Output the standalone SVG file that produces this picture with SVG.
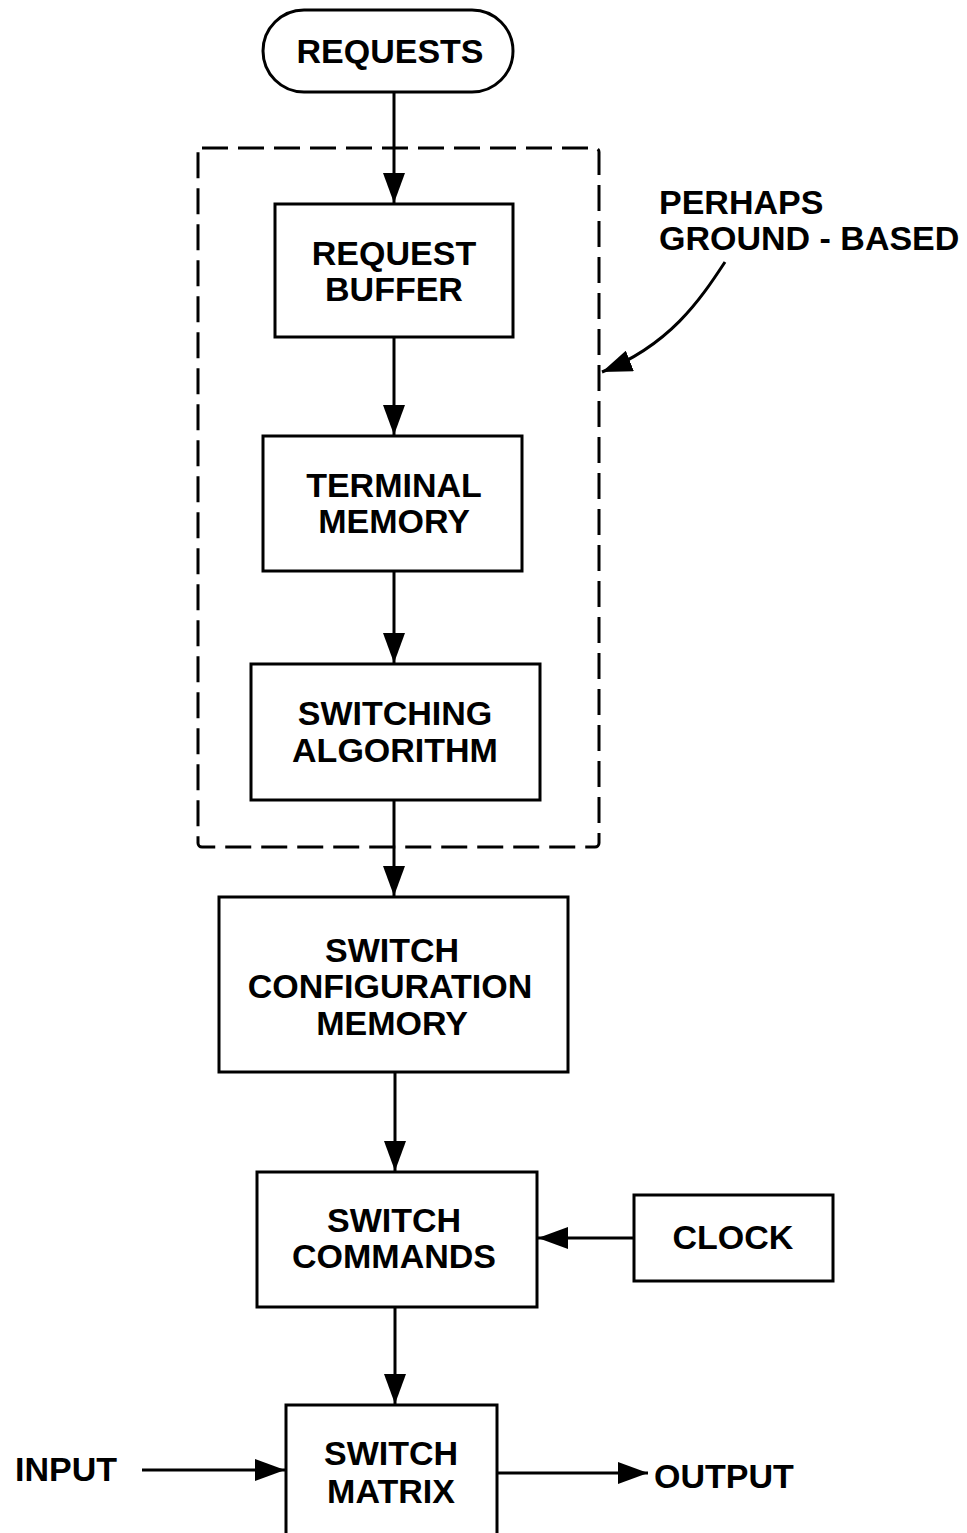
<svg xmlns="http://www.w3.org/2000/svg" width="967" height="1533" viewBox="0 0 967 1533">
<style>
.box{fill:none;stroke:#000;stroke-width:3}
.dash{fill:none;stroke:#000;stroke-width:3;stroke-dasharray:26 10}
.ln{fill:none;stroke:#000;stroke-width:3}
text{font-family:"Liberation Sans",Arial,sans-serif;font-weight:bold;font-size:34px;fill:#000;text-anchor:middle}
.l{text-anchor:start}
</style>
<defs>
<marker id="ahb" markerWidth="30" markerHeight="22" refX="30" refY="11" orient="auto" markerUnits="userSpaceOnUse" viewBox="0 0 30 22">
<path d="M0,0 L30,11 L0,22 z" fill="#000"/>
</marker>
</defs>
<g id="ground-based-boundary">
<rect class="dash" x="198" y="148" width="401" height="699" rx="4"/>
</g>
<g id="requests">
<rect class="box" x="263" y="10" width="250" height="82" rx="41"/>
<text x="390" y="63">REQUESTS</text>
</g>
<g id="request-buffer">
<rect class="box" x="275" y="204" width="238" height="133"/>
<text x="394" y="265">REQUEST</text>
<text x="394" y="301">BUFFER</text>
</g>
<g id="terminal-memory">
<rect class="box" x="263" y="436" width="259" height="135"/>
<text x="394" y="497">TERMINAL</text>
<text x="394" y="533">MEMORY</text>
</g>
<g id="switching-algorithm">
<rect class="box" x="251" y="664" width="289" height="136"/>
<text x="395" y="725">SWITCHING</text>
<text x="395" y="762">ALGORITHM</text>
</g>
<g id="switch-configuration-memory">
<rect class="box" x="219" y="897" width="349" height="175"/>
<text x="392" y="962">SWITCH</text>
<text x="390" y="998">CONFIGURATION</text>
<text x="392" y="1035">MEMORY</text>
</g>
<g id="switch-commands">
<rect class="box" x="257" y="1172" width="280" height="135"/>
<text x="394" y="1232">SWITCH</text>
<text x="394" y="1268">COMMANDS</text>
</g>
<g id="clock">
<rect class="box" x="634" y="1195" width="199" height="86"/>
<text x="733" y="1249">CLOCK</text>
</g>
<g id="switch-matrix">
<rect class="box" x="286" y="1405" width="211" height="140"/>
<text x="391" y="1465">SWITCH</text>
<text x="391" y="1503">MATRIX</text>
</g>
<g id="labels">
<text class="l" x="15" y="1481">INPUT</text>
<text class="l" x="654" y="1488">OUTPUT</text>
<text class="l" x="659" y="214">PERHAPS</text>
<text class="l" x="659" y="250">GROUND - BASED</text>
</g>
<g id="connectors">
<line class="ln" x1="394" y1="92" x2="394" y2="203" marker-end="url(#ahb)"/>
<line class="ln" x1="394" y1="337" x2="394" y2="435" marker-end="url(#ahb)"/>
<line class="ln" x1="394" y1="571" x2="394" y2="663" marker-end="url(#ahb)"/>
<line class="ln" x1="394" y1="800" x2="394" y2="896" marker-end="url(#ahb)"/>
<line class="ln" x1="395" y1="1072" x2="395" y2="1171" marker-end="url(#ahb)"/>
<line class="ln" x1="634" y1="1238" x2="538" y2="1238" marker-end="url(#ahb)"/>
<line class="ln" x1="395" y1="1307" x2="395" y2="1404" marker-end="url(#ahb)"/>
<line class="ln" x1="142" y1="1470" x2="285" y2="1470" marker-end="url(#ahb)"/>
<line class="ln" x1="497" y1="1473" x2="648" y2="1473" marker-end="url(#ahb)"/>
<path class="ln" d="M725,262 C700,300 670,345 602,372" marker-end="url(#ahb)"/>
</g>
</svg>
